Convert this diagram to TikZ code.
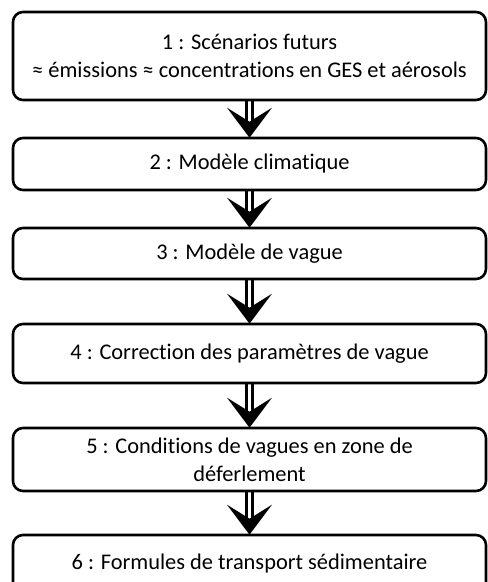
\documentclass[tikz,border=0pt]{standalone}
\usepackage{fontspec}
\setmainfont[Ligatures={NoCommon}]{Carlito}
\begin{document}
\begin{tikzpicture}[x=1pt,y=-1pt,
  stepbox/.style={draw=black, line width=2.6pt, rounded corners=10pt, fill=white,
    minimum width=473pt, align=center, inner sep=0pt, text=black,
    font=\fontsize{22.4}{28}\selectfont},
  stem/.style={line width=2.8pt, draw=black},
  head/.style={fill=black}]
\useasboundingbox (0,0) rectangle (488,582);
\node[stepbox, minimum height=88pt] (b1) at (249.5,56) {1 : Scénarios futurs\\≈ émissions ≈ concentrations en GES et aérosols};
\node[stepbox, minimum height=52pt] (b2) at (249.5,164) {2 : Modèle climatique};
\node[stepbox, minimum height=51pt] (b3) at (249.5,253.5) {3 : Modèle de vague};
\node[stepbox, minimum height=59pt] (b4) at (249.5,353.5) {4 : Correction des paramètres de vague};
\node[stepbox, minimum height=63pt] (b5) at (249.5,459.5) {5 : Conditions de vagues en zone de\\déferlement};
\node[stepbox, minimum height=57pt] (b6) at (249.5,563.5) {6 : Formules de transport sédimentaire};
\foreach \a/\b in {b1/b2,b2/b3,b3/b4,b4/b5,b5/b6}{
  \draw[stem] ([xshift=-2.9pt]\a.south) -- ([xshift=-2.9pt,yshift=14pt]\b.north);
  \draw[stem] ([xshift=2.9pt]\a.south) -- ([xshift=2.9pt,yshift=14pt]\b.north);
  \fill[head] ([yshift=-1pt]\b.north) -- ++(-22.5,-30) -- ++(22.5,14) -- ++(22.5,-14) -- cycle;
}
\end{tikzpicture}
\end{document}
